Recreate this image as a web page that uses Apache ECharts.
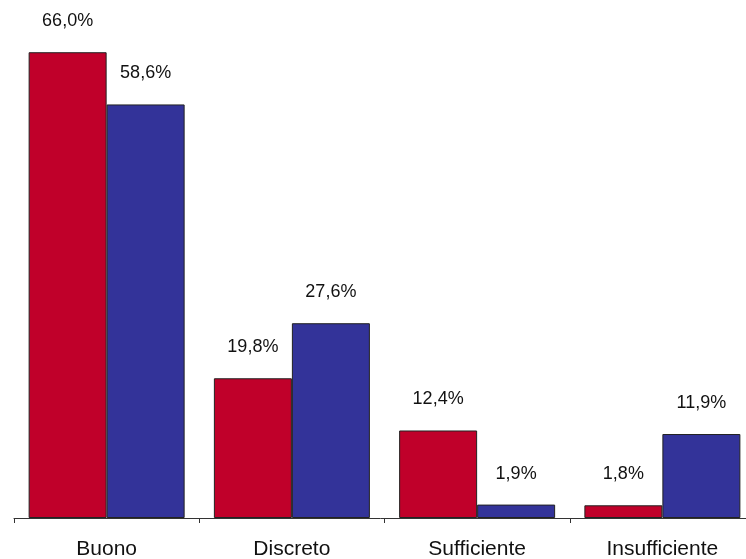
<!DOCTYPE html>
<html>
<head>
<meta charset="utf-8">
<script src="https://cdn.jsdelivr.net/npm/echarts@6/dist/echarts.min.js"></script>
<style>
html,body{margin:0;padding:0;background:#fff;}
#main{width:746px;height:559px;}
</style>
</head>
<body>
<div id="main"></div>
<script>
var categories = ['Buono', 'Discreto', 'Sufficiente', 'Insufficiente'];
var serie1 = [66.0, 19.8, 12.4, 1.8];
var serie2 = [58.6, 27.6, 1.9, 11.9];

function fmt(v){
	return v.toFixed(1).replace('.', ',') + '%';
}

var chart = echarts.init(document.getElementById('main'));
var labelStyle = {
	show: true,
	position: 'top',
	distance: 22,
	fontFamily: 'Liberation Sans',
	fontSize: 18,
	color: '#111',
	formatter: function(p){ return fmt(p.value); }
};
chart.setOption({
	animation: false,
	grid: {left: 14, right: -9, top: 24, bottom: 41, outerBoundsMode: 'none'},
	xAxis: {
		type: 'category',
		data: categories,
		axisLine: {lineStyle: {color: '#333', width: 1}},
		axisTick: {show: true, length: 5, lineStyle: {color: '#333'}},
		axisLabel: {fontFamily: 'Liberation Sans', fontSize: 21, color: '#111', margin: 21}
	},
	yAxis: {
		type: 'value',
		min: 0,
		max: 70,
		show: false
	},
	series: [
		{
			type: 'bar',
			data: serie1,
			barWidth: 78,
			barGap: '0%',
			itemStyle: {color: '#C0002A', borderColor: '#222', borderWidth: 1},
			label: labelStyle
		},
		{
			type: 'bar',
			data: serie2,
			barWidth: 78,
			itemStyle: {color: '#333399', borderColor: '#222', borderWidth: 1},
			label: labelStyle
		}
	]
});
</script>
</body>
</html>
